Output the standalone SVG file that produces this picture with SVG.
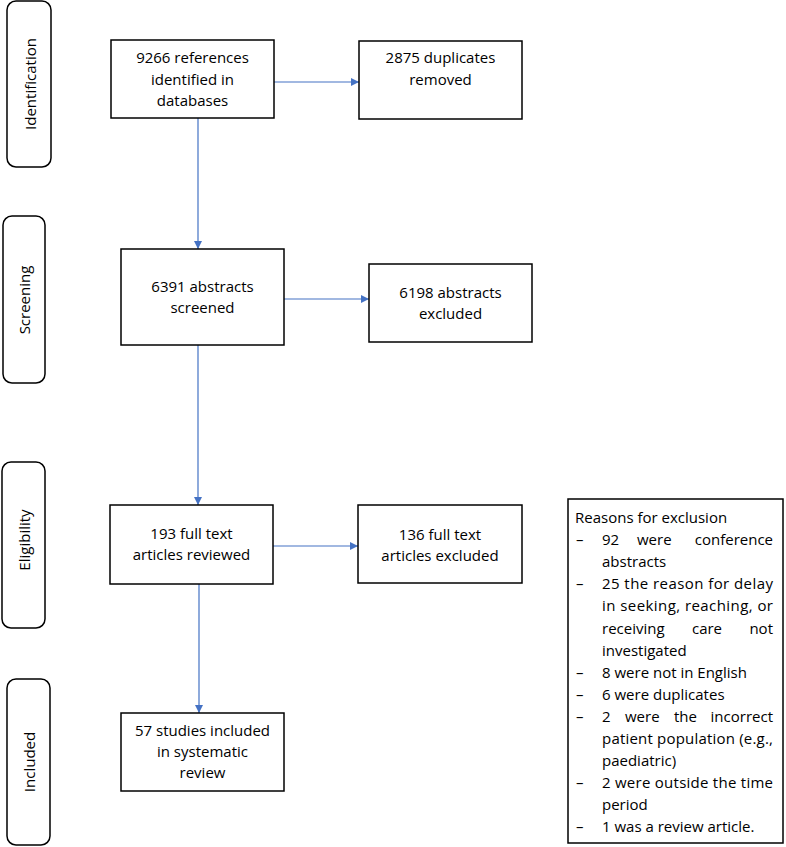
<svg xmlns="http://www.w3.org/2000/svg" width="786" height="847" viewBox="0 0 786 847">
<defs>
<style>
text{font-family:"Open Sans","Noto Sans","Liberation Sans",sans-serif;font-size:15px;fill:#000}
.box{fill:#fff;stroke:#000;stroke-width:1.5}
.pill{fill:#fff;stroke:#000;stroke-width:1.5}
.c{text-anchor:middle}
.conn{stroke:#4472C4;stroke-width:1.2;fill:none;marker-end:url(#ah)}
</style>
<marker id="ah" markerUnits="userSpaceOnUse" markerWidth="10" markerHeight="10" refX="8" refY="4" orient="auto">
<path d="M0,0 L8,4 L0,8 Z" fill="#4472C4"/>
</marker>
</defs>
<rect width="786" height="847" fill="#fff"/>

<g id="stage-identification">
<rect class="pill" x="7" y="1" width="44" height="166" rx="9"/>
<text class="c" transform="translate(35.5,84) rotate(-90)">Identification</text>
</g>
<g id="stage-screening">
<rect class="pill" x="3" y="216" width="42" height="167" rx="9"/>
<text class="c" transform="translate(30,300) rotate(-90)">Screening</text>
</g>
<g id="stage-eligibility">
<rect class="pill" x="2" y="462" width="43" height="166" rx="9"/>
<text class="c" transform="translate(29.5,540) rotate(-90)">Eligibility</text>
</g>
<g id="stage-included">
<rect class="pill" x="7" y="679" width="43" height="166" rx="9"/>
<text class="c" transform="translate(34.5,762) rotate(-90)">Included</text>
</g>

<g id="connectors">
<line class="conn" x1="274" y1="82" x2="359" y2="82"/>
<line class="conn" x1="198" y1="118" x2="198" y2="249"/>
<line class="conn" x1="284" y1="299" x2="369" y2="299"/>
<line class="conn" x1="198" y1="345" x2="198" y2="505"/>
<line class="conn" x1="273" y1="546" x2="358" y2="546"/>
<line class="conn" x1="199" y1="584" x2="199" y2="713"/>
</g>

<g id="n-identified">
<rect class="box" x="111" y="40" width="163" height="78"/>
<text class="c" x="192.5" y="63">9266 references</text>
<text class="c" x="192.5" y="85">identified in</text>
<text class="c" x="192.5" y="106">databases</text>
</g>
<g id="n-duplicates">
<rect class="box" x="359" y="41" width="163" height="78"/>
<text class="c" x="440.5" y="63">2875 duplicates</text>
<text class="c" x="440.5" y="85">removed</text>
</g>
<g id="n-screened">
<rect class="box" x="121" y="249" width="163" height="96"/>
<text class="c" x="202.5" y="292">6391 abstracts</text>
<text class="c" x="202.5" y="313">screened</text>
</g>
<g id="n-abstracts-excluded">
<rect class="box" x="369" y="264" width="163" height="78"/>
<text class="c" x="450.5" y="298">6198 abstracts</text>
<text class="c" x="450.5" y="319">excluded</text>
</g>
<g id="n-fulltext">
<rect class="box" x="110" y="505" width="163" height="79"/>
<text class="c" x="191.5" y="539">193 full text</text>
<text class="c" x="191.5" y="560">articles reviewed</text>
</g>
<g id="n-fulltext-excluded">
<rect class="box" x="358" y="505" width="164" height="78"/>
<text class="c" x="440" y="540">136 full text</text>
<text class="c" x="440" y="561">articles excluded</text>
</g>
<g id="n-included">
<rect class="box" x="121" y="713" width="163" height="78"/>
<text class="c" x="202.5" y="736">57 studies included</text>
<text class="c" x="202.5" y="757">in systematic</text>
<text class="c" x="202.5" y="778">review</text>
</g>

<g id="n-reasons">
<rect class="box" x="568" y="499" width="215" height="344"/>
<text x="575" y="523">Reasons for exclusion</text>
<text x="576" y="545">–</text>
<text y="545"><tspan x="602">92</tspan><tspan x="637">were</tspan></text>
<text x="773" y="545" text-anchor="end">conference</text>
<text x="602" y="567">abstracts</text>
<text x="576" y="589">–</text>
<text x="602" y="589" textLength="171" lengthAdjust="spacing">25 the reason for delay</text>
<text x="602" y="611" textLength="171" lengthAdjust="spacing">in seeking, reaching, or</text>
<text x="602" y="634">receiving</text>
<text x="707" y="634" text-anchor="middle">care</text>
<text x="773" y="634" text-anchor="end">not</text>
<text x="602" y="656">investigated</text>
<text x="576" y="678">–</text>
<text x="602" y="678">8 were not in English</text>
<text x="576" y="700">–</text>
<text x="602" y="700">6 were duplicates</text>
<text x="576" y="722">–</text>
<text y="722"><tspan x="602">2</tspan><tspan x="625">were</tspan><tspan x="674">the</tspan></text>
<text x="773" y="722" text-anchor="end">incorrect</text>
<text x="602" y="744" textLength="171" lengthAdjust="spacing">patient population (e.g.,</text>
<text x="602" y="766">paediatric)</text>
<text x="576" y="788">–</text>
<text x="602" y="788" textLength="171" lengthAdjust="spacing">2 were outside the time</text>
<text x="602" y="810">period</text>
<text x="576" y="832">–</text>
<text x="602" y="832">1 was a review article.</text>
</g>
</svg>
